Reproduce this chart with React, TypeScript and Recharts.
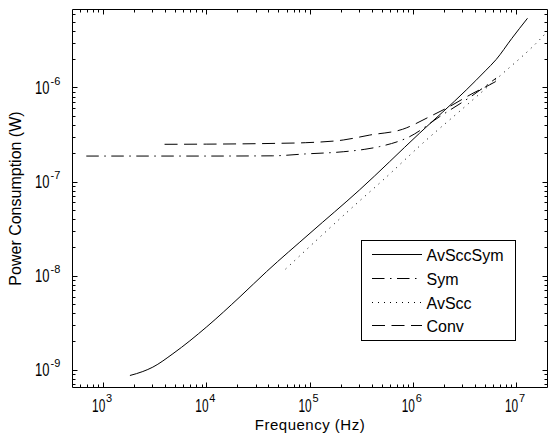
import React from 'react';
import { LineChart, Line, XAxis, YAxis, ReferenceArea, Legend } from 'recharts';

const FONT = '"Liberation Sans", Arial, Helvetica, sans-serif';

// ---- Data (frequency in Hz, power in W) ----
const avSccSymFreq = [1.8e3, 2.4e3, 3.0e3, 4.7e3, 1e4, 2.1e4, 3.8e4, 1e5, 3e5, 1.15e6, 3.26e6, 5e6, 6.35e6, 9e6, 1.28e7];
const avSccSymPower = [8.8e-10, 9.7e-10, 1.08e-9, 1.5e-9, 2.9e-9, 6.05e-9, 1.12e-8, 2.86e-8, 8.2e-8, 3.3e-7, 9.5e-7, 1.52e-6, 2.0e-6, 3.35e-6, 5.5e-6];

const symFreq = [680, 2e3, 1e4, 4.3e4, 9e4, 2.1e5, 3.4e5, 4.7e5, 9.2e5, 1.8e6, 3.8e6, 6.35e6];
const symPower = [1.89e-7, 1.89e-7, 1.89e-7, 1.9e-7, 1.99e-7, 2.1e-7, 2.23e-7, 2.38e-7, 3.03e-7, 4.95e-7, 8.4e-7, 1.27e-6];

const avSccFreq = [5.8e4, 2.8e5, 5.1e5, 1.34e6, 3e6, 6.8e6, 1.67e7, 2e7];
const avSccPower = [1.19e-8, 5.85e-8, 1.05e-7, 2.8e-7, 6.0e-7, 1.32e-6, 3.24e-6, 4.0e-6];

const convFreq = [3.9e3, 1e4, 4.9e4, 9e4, 2.1e5, 3.8e5, 7.9e5, 1.44e6, 2.24e6, 3.8e6, 5.5e6, 6.3e6];
const convPower = [2.52e-7, 2.53e-7, 2.58e-7, 2.62e-7, 2.8e-7, 3.16e-7, 3.64e-7, 4.95e-7, 6.33e-7, 8.8e-7, 1.08e-6, 1.17e-6];

// ---- Axes ----
const xDomain = [500, 2e7];
const yDomain = [6.56e-10, 6.82e-6];
const minorMultipliers = [2, 3, 4, 5, 6, 7, 8, 9];
const xMajorTicks = [1e3, 1e4, 1e5, 1e6, 1e7];
const xMinorTicks = [600, 700, 800, 900].concat(
  [1e3, 1e4, 1e5, 1e6].flatMap((d) => minorMultipliers.map((m) => m * d))
);
const yMajorTicks = [1e-9, 1e-8, 1e-7, 1e-6];
const yMinorTicks = [7e-10, 8e-10, 9e-10]
  .concat([1e-9, 1e-8, 1e-7].flatMap((d) => minorMultipliers.map((m) => m * d)))
  .concat([2e-6, 3e-6, 4e-6, 5e-6, 6e-6]);
const xTicks = [...xMajorTicks, ...xMinorTicks].sort((a, b) => a - b);
const yTicks = [...yMajorTicks, ...yMinorTicks].sort((a, b) => a - b);

const xLabel = 'Frequency (Hz)';
const yLabel = 'Power Consumption (W)';

const toPoints = (f: number[], p: number[]) => f.map((v, i) => ({ f: v, p: p[i] }));

const series = [
  { name: 'AvSccSym', data: toPoints(avSccSymFreq, avSccSymPower), dash: undefined as string | undefined },
  { name: 'Sym', data: toPoints(symFreq, symPower), dash: '12.5 5.5 1.5 5.5' },
  { name: 'AvScc', data: toPoints(avSccFreq, avSccPower), dash: '1 5' },
  { name: 'Conv', data: toPoints(convFreq, convPower), dash: '13 6.5' },
];

// ---- Layout ----
const W = 549;
const H = 441;
const PLOT = { left: 72.5, right: 547.5, top: 9.5, bottom: 387.5 };
const BASE_SCALE_X = 0.66; // narrow, tall "10" like the reference

const isMajor = (v: number) => {
  const e = Math.log10(v);
  return Math.abs(e - Math.round(e)) < 1e-6;
};

const XTick = (props: any) => {
  const { x, payload } = props;
  const v = payload.value;
  const major = isMajor(v);
  const len = major ? 5 : 3;
  const xx = Math.round(x - 0.5) + 0.5;
  return (
    <g>
      <line x1={xx} x2={xx} y1={PLOT.bottom} y2={PLOT.bottom - len} stroke="#000" strokeWidth={1} />
      <line x1={xx} x2={xx} y1={PLOT.top} y2={PLOT.top + len} stroke="#000" strokeWidth={1} />
      {major && (
        <g fontFamily={FONT} fill="#000">
          <text transform={`translate(${x - 11.5},${PLOT.bottom + 24}) scale(${BASE_SCALE_X},1)`} fontSize={18}>
            10
          </text>
          <text x={x + 2.5} y={PLOT.bottom + 14.5} fontSize={11}>
            {String(Math.round(Math.log10(v)))}
          </text>
        </g>
      )}
    </g>
  );
};

const YTick = (props: any) => {
  const { y, payload } = props;
  const v = payload.value;
  const major = isMajor(v);
  const len = major ? 5 : 3;
  const yy = Math.round(y - 0.5) + 0.5;
  return (
    <g>
      <line x1={PLOT.left} x2={PLOT.left + len} y1={yy} y2={yy} stroke="#000" strokeWidth={1} />
      <line x1={PLOT.right} x2={PLOT.right - len} y1={yy} y2={yy} stroke="#000" strokeWidth={1} />
      {major && (
        <g fontFamily={FONT} fill="#000">
          <text transform={`translate(35,${y + 6}) scale(0.72,1)`} fontSize={18}>
            10
          </text>
          <text x={50.5} y={y - 3} fontSize={11}>
            {String(Math.round(Math.log10(v)))}
          </text>
        </g>
      )}
    </g>
  );
};

const legendRowY = [14.5, 38.5, 62.5, 85.5];

const LegendBox = () => (
  <svg width={156} height={102} style={{ display: 'block' }}>
    <rect x={0.5} y={0.5} width={154} height={100} fill="#fff" stroke="#000" strokeWidth={1} />
    {series.map((s, i) => (
      <g key={s.name}>
        <line x1={11} x2={61} y1={legendRowY[i]} y2={legendRowY[i]} stroke="#000" strokeWidth={1} strokeDasharray={s.dash} />
        <text x={65.5} y={legendRowY[i] + 6} fontSize={16} fontFamily={FONT} fill="#000">
          {s.name}
        </text>
      </g>
    ))}
  </svg>
);

export default function App() {
  return (
    <div style={{ position: 'absolute', left: 0, top: 0, width: W, height: H, background: '#fff' }}>
      <LineChart width={W} height={H} margin={{ top: PLOT.top, right: W - PLOT.right, bottom: 0, left: 0 }}>
        <XAxis
          dataKey="f"
          type="number"
          scale="log"
          domain={xDomain}
          allowDataOverflow
          ticks={xTicks}
          interval={0}
          tick={(p: any) => <XTick {...p} />}
          tickLine={false}
          axisLine={false}
          tickSize={0}
          tickMargin={0}
          height={H - PLOT.bottom}
          label={() => (
            <text
              x={(PLOT.left + PLOT.right) / 2}
              y={429.5}
              textAnchor="middle"
              fontSize={15}
              letterSpacing={0.5}
              fontFamily={FONT}
              fill="#000"
            >
              {xLabel}
            </text>
          )}
        />
        <YAxis
          type="number"
          scale="log"
          domain={yDomain}
          allowDataOverflow
          ticks={yTicks}
          interval={0}
          tick={(p: any) => <YTick {...p} />}
          tickLine={false}
          axisLine={false}
          tickSize={0}
          tickMargin={0}
          width={PLOT.left}
          label={() => (
            <text
              transform={`translate(20.5,${(PLOT.top + PLOT.bottom) / 2}) rotate(-90)`}
              textAnchor="middle"
              fontSize={16}
              fontFamily={FONT}
              fill="#000"
            >
              {yLabel}
            </text>
          )}
        />
        <ReferenceArea
          x1={xDomain[0]}
          x2={xDomain[1]}
          y1={yDomain[0]}
          y2={yDomain[1]}
          fill="none"
          stroke="#000"
          strokeWidth={1}
          ifOverflow="visible"
        />
        {series.map((s) => (
          <Line
            key={s.name}
            name={s.name}
            data={s.data}
            dataKey="p"
            type="monotone"
            stroke="#000"
            strokeWidth={1}
            strokeDasharray={s.dash}
            dot={false}
            activeDot={false}
            isAnimationActive={false}
          />
        ))}
        <Legend
          layout="vertical"
          align="center"
          verticalAlign="middle"
          content={() => <LegendBox />}
          wrapperStyle={{ position: 'absolute', left: 361, top: 240, width: 156, height: 102, right: 'auto', bottom: 'auto' }}
        />
      </LineChart>
    </div>
  );
}
